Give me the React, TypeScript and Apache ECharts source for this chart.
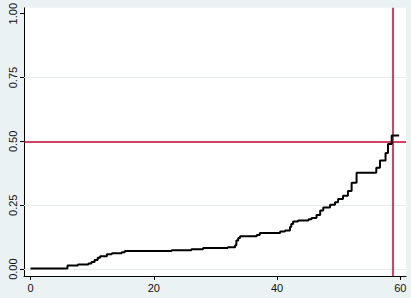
import React, { useEffect, useRef } from "react";
import * as echarts from "echarts";

// Step curve: each point (x, y) holds value y from x onward
const stepX = [0, 6.0, 7.7, 9.4, 9.9, 10.4, 10.9, 11.3, 12.4, 13.2, 14.8, 15.3, 22.9, 26.1, 28.0, 32.0, 33.2, 33.4, 33.7, 34.0, 36.7, 37.2, 40.5, 41.3, 42.1, 42.3, 42.6, 43.4, 45.1, 45.6, 46.4, 47.0, 47.5, 48.6, 49.4, 49.9, 50.7, 51.5, 52.1, 52.9, 56.1, 56.7, 57.6, 58.0, 58.6, 59.8];
const stepY = [0.002, 0.014, 0.018, 0.022, 0.028, 0.036, 0.044, 0.05, 0.058, 0.062, 0.066, 0.071, 0.074, 0.078, 0.083, 0.086, 0.093, 0.112, 0.122, 0.129, 0.134, 0.141, 0.147, 0.151, 0.165, 0.177, 0.186, 0.19, 0.195, 0.2, 0.212, 0.229, 0.241, 0.252, 0.262, 0.274, 0.287, 0.306, 0.338, 0.377, 0.397, 0.425, 0.455, 0.49, 0.523, 0.524];

const xTicks = [0, 20, 40, 60];
const yTicks = [0, 0.25, 0.5, 0.75, 1];
const gridYValues = [0, 0.25, 0.75];
const refY = 0.5;
const refX = 58.7;

export default function App() {
  const ref = useRef<HTMLDivElement>(null);
  useEffect(() => {
    if (!ref.current) return;
    const chart = echarts.init(ref.current, undefined, { renderer: "svg" });
    const font = "Liberation Sans, Arial, sans-serif";
    const data = stepX.map((x, i) => [x, stepY[i]]);
    chart.setOption({
      animation: false,
      backgroundColor: "#EAF2F3",
      grid: {
        left: 24,
        right: 5,
        top: 5,
        bottom: 22,
        show: true,
        backgroundColor: "#ffffff",
        borderWidth: 0,
      },
      xAxis: {
        type: "value",
        min: -1.05,
        max: 60.92,
        splitLine: { show: false },
        axisLine: { show: true, onZero: false, lineStyle: { color: "#000", width: 1 } },
        axisTick: { show: true, length: 4, customValues: xTicks, lineStyle: { color: "#000" } },
        axisLabel: {
          customValues: xTicks,
          margin: 6,
          fontSize: 11,
          fontFamily: font,
          color: "#111",
          formatter: (v: number) => String(v),
        },
      },
      yAxis: {
        type: "value",
        min: -0.027,
        max: 1.023,
        splitLine: { show: false },
        axisLine: { show: true, onZero: false, lineStyle: { color: "#000", width: 1 } },
        axisTick: { show: true, length: 4, customValues: yTicks, lineStyle: { color: "#000" } },
        axisLabel: {
          customValues: yTicks,
          rotate: 90,
          margin: 6,
          fontSize: 11,
          fontFamily: font,
          color: "#111",
          formatter: (v: number) => v.toFixed(2),
        },
      },
      series: [
        {
          type: "line",
          step: "end",
          data,
          symbol: "none",
          lineStyle: { color: "#000", width: 2 },
          z: 5,
          markLine: {
            silent: true,
            symbol: "none",
            label: { show: false },
            data: [
              ...gridYValues.map((v) => ({ yAxis: v, lineStyle: { color: "#E4ECEC", width: 1, type: "solid" } })),
              { yAxis: refY, lineStyle: { color: "#C10534", width: 1.5, type: "solid" } },
              { xAxis: refX, lineStyle: { color: "#C10534", width: 1.5, type: "solid" } },
            ],
          },
        },
      ],
    });
    return () => chart.dispose();
  }, []);
  return (
    <div
      ref={ref}
      style={{ position: "fixed", left: 0, top: 0, width: 411, height: 298 }}
    />
  );
}
